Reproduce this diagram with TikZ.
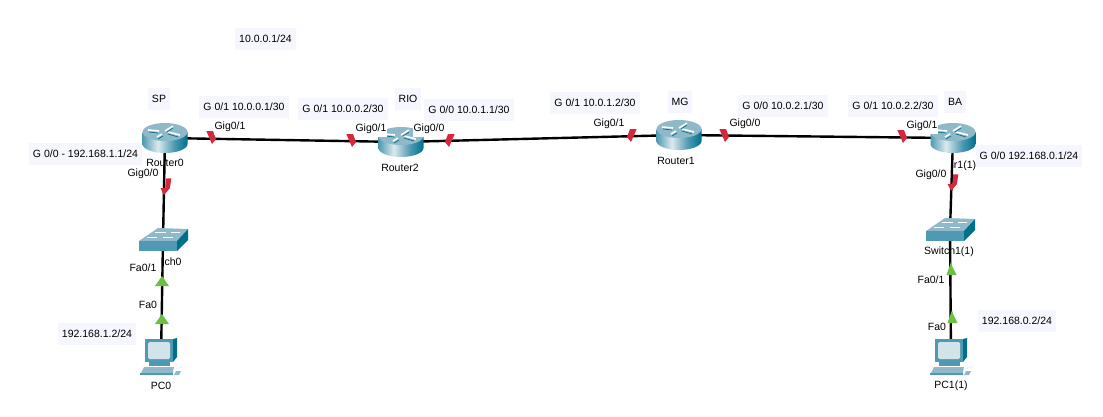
\documentclass[tikz,border=0pt]{standalone}
\usepackage{fontspec}
\setmainfont{Liberation Sans}
\definecolor{tealdark}{HTML}{006F8C}
\definecolor{tealmid}{HTML}{4F9AB2}
\definecolor{teallight}{HTML}{8FB9C8}
\definecolor{tealpale}{HTML}{DCE9EE}
\definecolor{boxbg}{HTML}{F5F6FE}
\definecolor{linkred}{HTML}{D6283C}
\definecolor{linkgreen}{HTML}{6DBE45}
\pgfdeclarehorizontalshading{routerbody}{100bp}{color(0bp)=(tealdark); color(25bp)=(tealmid); color(42bp)=(tealpale); color(60bp)=(tealmid); color(75bp)=(tealdark); color(100bp)=(tealdark)}
\tikzset{
    txt/.style={font=\fontsize{10.5}{12}\selectfont, inner sep=0pt},
    boxlabel/.style={txt, fill=boxbg, inner xsep=4pt, minimum height=22pt},
    portlabel/.style={txt, fill=white, inner xsep=1pt, minimum height=16pt},
    device/.style={inner sep=0pt, minimum size=1pt},
    link/.style={line width=2.4pt, black},
    routericon/.pic={
        \shade[shading=routerbody]
            (-22.5,-6) -- (-22.5,6) arc[start angle=180, end angle=0, x radius=22.5, y radius=9] -- (22.5,-6) -- cycle;
        \fill[teallight] (0,-6) ellipse (22.5 and 9);
        \draw[white, line width=1.6pt] (-17,-8) -- (-6,-7) (0,-7) -- (8,-12) (3,-6) -- (15,-3) (-8,-1) -- (-3,-4);
        \draw[tealdark, line width=.7pt] (-16,-6) -- (-7,-5) (2,-6) -- (8,-10) (3,-4) -- (13,-1) (-7,1) -- (-2,-2);
    },
    switchicon/.pic={
        \fill[teallight] (-24,1) -- (14,1) -- (25,-11) -- (-5,-12) -- cycle;
        \fill[tealmid] (-24,1) rectangle (14,11);
        \fill[tealdark] (14,1) -- (25,-11) -- (25,0) -- (14,11) -- cycle;
        \draw[white, line width=.8pt] (-8,-8) -- (3,-8) (8,-8) -- (17,-8) (-16,-3) -- (-6,-3) (0,-3) -- (10,-3);
    },
    pcicon/.pic={
        \fill[tealdark] (12,-18) -- (16,-19) -- (16,0) -- (12,5) -- cycle;
        \fill[tealmid] (-16,-18) rectangle (12,5);
        \fill[white!60!teallight, rounded corners=1.5pt] (-13,-15) rectangle (9,2);
        \fill[tealmid] (-12,5) rectangle (9,9);
        \fill[teallight] (-17,10) -- (13,10) -- (12,14) -- (12,18) -- (-21,18) -- cycle;
        \fill[tealmid] (-21,16) rectangle (12,18);
        \fill[teallight] (15,14) -- (20,14) -- (18,18) -- (13,18) -- cycle;
        \draw[white!70!teallight] (14,12) -- (22,10);
    },
    reddown/.pic={\fill[linkred] (-5.7,-13) -- (1,-13) -- (4,-5) -- (0,0) -- cycle;},
    reddownb/.pic={\fill[linkred] (5.7,-13) -- (-1,-13) -- (-4,-5) -- (0,0) -- cycle;},
    redbolt/.pic={\fill[linkred] (2.3,-16.7) -- (7.3,-16.7) -- (6,-7) -- (0,0) -- (-3.5,-7) -- (1.3,-7) -- cycle;},
    greenup/.pic={\fill[linkgreen] (0,0) -- (7,10) -- (-7,10) -- cycle;},
    greenupb/.pic={\fill[linkgreen] (0,-1) -- (1,3) -- (5.5,12) -- (-4.5,12) -- cycle;},
}
\begin{document}
\begin{tikzpicture}[x=1pt, y=-1pt]
    \useasboundingbox (0,0) rectangle (1103,416);
    \node[device] (router0) at (165,138) {};
    \node[device] (router2) at (401,142) {};
    \node[device] (router1) at (679,135) {};
    \node[device] (router3) at (953,138) {};
    \node[device] (switch0) at (163,240) {};
    \node[device] (switch1) at (950,230) {};
    \node[device] (pc0) at (161,357) {};
    \node[device] (pc1) at (951,357) {};
    % device names
    \node[txt] (name0) at (165,163) {Router0};
    \node[txt] (name2) at (400,168) {Router2};
    \node[txt] (name1) at (676,161) {Router1};
    \node[txt] (name3) at (965,166) {r1(1)};
    \node[txt] (nameS0) at (173,262) {ch0};
    \node[txt] (namePC0) at (161,386) {PC0};
    \node[txt] (namePC1) at (951,386) {PC1(1)};
    % links
    \draw[link] (router0) -- (router2);
    \draw[link] (router2) -- (router1);
    \draw[link] (router1) -- (router3);
    \draw[link] (router0) -- (switch0);
    \draw[link] (router3) -- (switch1);
    \draw[link] (switch0) -- (pc0);
    \draw[link] (switch1) -- (pc1);
    \node[txt] (nameS1) at (949,252) {Switch1(1)};
    % link lights
    \pic at (212,144) {reddown};
    \pic at (352,147) {reddown};
    \pic at (449,147) {reddownb};
    \pic at (631,142) {reddownb};
    \pic at (725,142) {reddown};
    \pic at (903,143) {reddown};
    \pic at (164,195) {redbolt};
    \pic at (951,191) {redbolt};
    \pic at (162,276) {greenup};
    \pic at (162,314) {greenup};
    \pic at (951,263) {greenupb};
    \pic at (952,311) {greenupb};
    % icons
    \pic at (router0) {routericon};
    \pic at (router2) {routericon};
    \pic at (router1) {routericon};
    \pic at (router3) {routericon};
    \pic at (switch0) {switchicon};
    \pic at (switch1) {switchicon};
    \pic at (pc0) {pcicon};
    \pic at (pc1) {pcicon};
    % port labels
    \node[portlabel] (p1) at (143,174) {Gig0/0};
    \node[portlabel] (p2) at (230,127) {Gig0/1};
    \node[portlabel] (p3) at (371,129) {Gig0/1};
    \node[portlabel] (p4) at (429,129) {Gig0/0};
    \node[portlabel] (p5) at (609,124) {Gig0/1};
    \node[portlabel] (p6) at (745,124) {Gig0/0};
    \node[portlabel] (p7) at (922,126) {Gig0/1};
    \node[portlabel] (p8) at (931,175) {Gig0/0};
    \node[portlabel] (p9) at (143,268) {Fa0/1};
    \node[portlabel] (p10) at (148,305) {Fa0};
    \node[portlabel] (p11) at (931,280) {Fa0/1};
    \node[portlabel] (p12) at (937,327) {Fa0};
    % notes
    \node[boxlabel] (note0) at (265.5,39) {10.0.0.1/24};
    \node[boxlabel] (note1) at (159,99) {SP};
    \node[boxlabel] (note2) at (408,99) {RIO};
    \node[boxlabel] (note3) at (680,102) {MG};
    \node[boxlabel] (note4) at (955,102) {BA};
    \node[boxlabel] (note5) at (244,107) {G 0/1 10.0.0.1/30};
    \node[boxlabel] (note6) at (343,109) {G 0/1 10.0.0.2/30};
    \node[boxlabel] (note7) at (469,110) {G 0/0 10.0.1.1/30};
    \node[boxlabel] (note8) at (595,103) {G 0/1 10.0.1.2/30};
    \node[boxlabel] (note9) at (783,106) {G 0/0 10.0.2.1/30};
    \node[boxlabel] (note10) at (893,106) {G 0/1 10.0.2.2/30};
    \node[boxlabel] (note11) at (85.5,154) {G 0/0 - 192.168.1.1/24};
    \node[boxlabel] (note12) at (1029,156) {G 0/0 192.168.0.1/24};
    \node[boxlabel] (note13) at (97,334) {192.168.1.2/24};
    \node[boxlabel] (note14) at (1017,321) {192.168.0.2/24};
\end{tikzpicture}
\end{document}
